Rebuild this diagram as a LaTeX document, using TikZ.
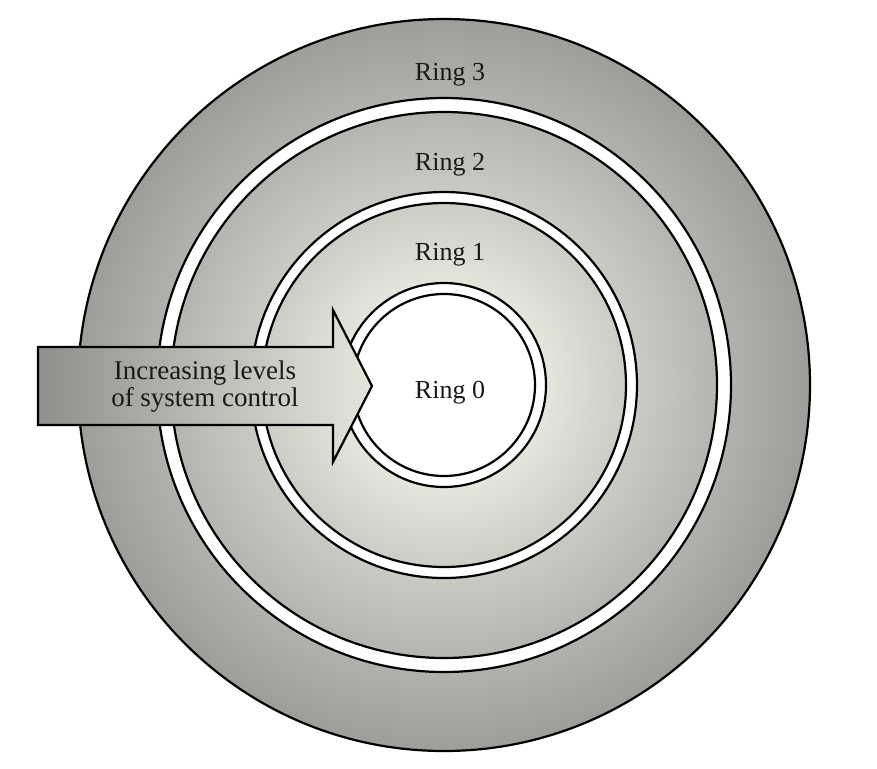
\documentclass[tikz,border=0pt]{standalone}
\usepackage{fontspec}
\setmainfont{Liberation Serif}
\usetikzlibrary{positioning}

\definecolor{ringlight}{HTML}{E4E6DC}
\definecolor{ringmid}{HTML}{CBCDC6}
\definecolor{ringdark}{HTML}{B3B5B0}
\definecolor{ringedge}{HTML}{9C9E9A}
\definecolor{arrowdark}{HTML}{8E908C}
\pgfdeclareradialshading{ringshade}{\pgfpoint{0bp}{0bp}}{color(0bp)=(ringlight); color(7bp)=(ringlight); color(12.5bp)=(ringmid); color(18.7bp)=(ringdark); color(25bp)=(ringedge); color(50bp)=(ringedge)}

\begin{document}
\begin{tikzpicture}[
    x=0.5pt, y=0.5pt,
    disc/.style={draw=black, line width=1.1pt, shade, shading=ringshade},
    gap/.style={draw=black, line width=1.1pt, fill=white, even odd rule},
    pointer/.style={draw=black, line width=1.1pt, left color=arrowdark, right color=ringlight},
    ringlabel/.style={font=\rmfamily\fontsize{13}{15.5}\selectfont, anchor=base, text=black!90},
    arrowtext/.style={font=\rmfamily\fontsize{13.5}{13.5}\selectfont, inner sep=0pt, text=black!90}
]
\useasboundingbox (-444,-383) rectangle (433,385);

% Rings
\path[disc] (0,0) circle[radius=366];
\path[gap] (0,0) circle[radius=287] circle[radius=273];
\path[gap] (0,0) circle[radius=193] circle[radius=182];
\path[draw=black, line width=1.1pt, fill=white] (0,0) circle[radius=102];
\draw[line width=1.1pt] (0,0) circle[radius=91];

% Arrow
\draw[pointer] (-406,38) -- (-111,38) -- (-111,75) -- (-72,-1) -- (-111,-77) -- (-111,-40) -- (-406,-40) -- cycle;

% Nodes
\node[ringlabel] (ring3) at (6,305) {Ring 3};
\node[ringlabel] (ring2) at (6,215) {Ring 2};
\node[ringlabel] (ring1) at (6,125) {Ring 1};
\node[ringlabel] (ring0) at (6,-13) {Ring 0};
\node[arrowtext] (control) at (-239,-3) {\begin{tabular}{@{}c@{}}Increasing levels\\of system control\end{tabular}};
\end{tikzpicture}
\end{document}
